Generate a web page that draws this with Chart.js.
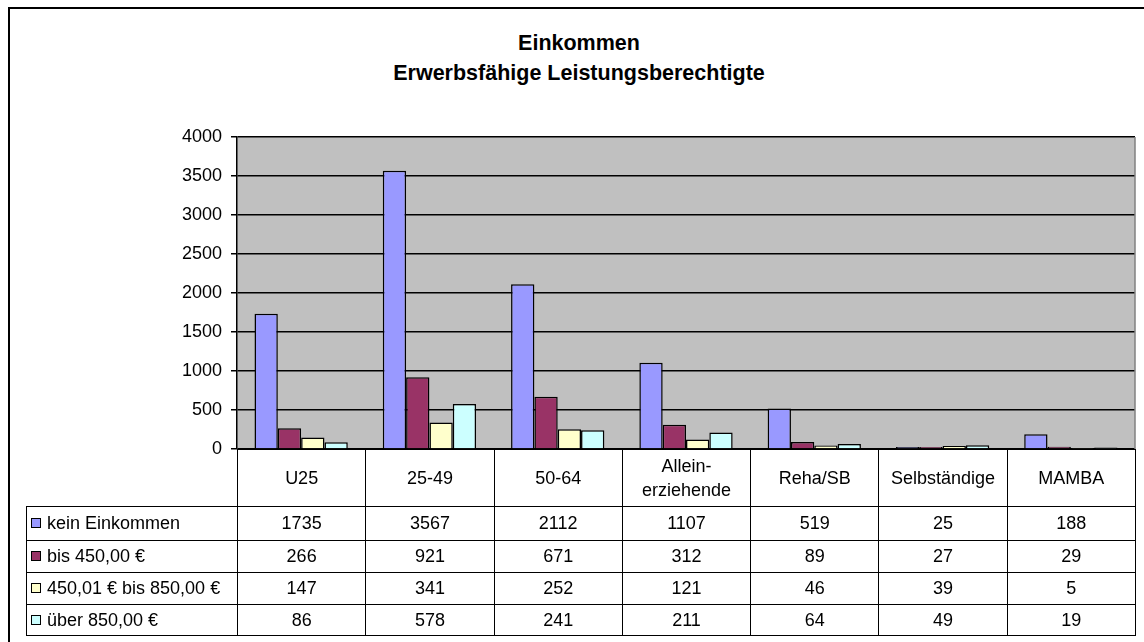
<!DOCTYPE html>
<html lang="de">
<head>
<meta charset="utf-8">
<title>Einkommen - Erwerbsfähige Leistungsberechtigte</title>
<script src="https://cdn.jsdelivr.net/npm/chart.js@4/dist/chart.umd.min.js"></script>
<style>
    body { margin: 0; background: #fff; font-family: 'Liberation Sans', Arial, sans-serif; }
    #page { position: relative; width: 1144px; height: 642px; overflow: hidden; }
    #frame { position: absolute; left: 8px; top: 7px; width: 1160px; height: 660px; border: 2px solid #000; }
    #title { position: absolute; left: 8px; width: 1142px; top: 28px; text-align: center;
             font-weight: bold; font-size: 21.5px; line-height: 30px; color: #000; }
    #chart { position: absolute; left: 0; top: 0; }
    #datatable { position: absolute; border-collapse: collapse; table-layout: fixed;
                 font-size: 18px; color: #000; }
    #datatable td { border: 1px solid #000; text-align: center; padding: 0; white-space: nowrap; }
    #datatable td.name { text-align: left; padding-left: 4px; }
    #datatable td.corner { border-top: none; border-left: none; }
    #datatable tr.head td { line-height: 24px; }
    .key { display: inline-block; width: 8px; height: 8px; border: 1px solid #000;
           margin-right: 6px; vertical-align: 1px; }
</style>
</head>
<body>
<div id="page">
    <div id="frame"></div>
    <div id="title">Einkommen<br>Erwerbsfähige Leistungsberechtigte</div>
    <canvas id="chart" width="1144" height="642"></canvas>
    <table id="datatable"></table>
</div>
<script>
// Daten
const categories = ['U25', '25-49', '50-64', ['Allein-', 'erziehende'], 'Reha/SB', 'Selbständige', 'MAMBA'];
const seriesNames = ['kein Einkommen', 'bis 450,00 €', '450,01 € bis 850,00 €', 'über 850,00 €'];
const keinEinkommen = [1735, 3567, 2112, 1107, 519, 25, 188];
const bis450 = [266, 921, 671, 312, 89, 27, 29];
const bis850 = [147, 341, 252, 121, 46, 39, 5];
const ueber850 = [86, 578, 241, 211, 64, 49, 19];
const yMin = 0;
const yMax = 4000;
const yStep = 500;

// Farben (Excel-Standardpalette)
const seriesColors = ['#9999FF', '#993366', '#FFFFCC', '#CCFFFF'];
const seriesValues = [keinEinkommen, bis450, bis850, ueber850];

Chart.defaults.font.family = "'Liberation Sans', Arial, sans-serif";
Chart.defaults.color = '#000';

// Grauer Hintergrund der Zeichenfläche
const plotBackground = {
    id: 'plotBackground',
    beforeDraw(chart) {
        const { ctx, chartArea: a } = chart;
        ctx.save();
        ctx.fillStyle = '#C0C0C0';
        ctx.fillRect(a.left, a.top, a.right - a.left, a.bottom - a.top);
        ctx.restore();
    },
    afterDraw(chart) {
        const { ctx, chartArea: a } = chart;
        ctx.save();
        ctx.strokeStyle = '#808080';
        ctx.lineWidth = 1.5;
        ctx.beginPath();
        ctx.moveTo(a.right, a.top);
        ctx.lineTo(a.right, a.bottom);
        ctx.stroke();
        ctx.restore();
    }
};

const chart = new Chart(document.getElementById('chart'), {
    type: 'bar',
    data: {
        labels: categories,
        datasets: seriesNames.map((name, i) => ({
            label: name,
            data: seriesValues[i],
            backgroundColor: seriesColors[i],
            borderColor: '#000',
            borderWidth: 1.5,
            categoryPercentage: 4 / 5.5,
            barPercentage: 1.0
        }))
    },
    options: {
        responsive: false,
        animation: false,
        layout: {
            padding: { left: 0, top: 137, right: 9, bottom: 193 }
        },
        plugins: {
            legend: { display: false },
            title: { display: false },
            tooltip: { enabled: false }
        },
        scales: {
            x: { display: false },
            y: {
                min: yMin,
                max: yMax,
                ticks: {
                    stepSize: yStep,
                    padding: 9,
                    font: { size: 18 },
                    color: '#000',
                    callback: value => String(value)
                },
                grid: {
                    color: '#000',
                    lineWidth: 1.5,
                    tickLength: 6
                },
                border: { display: true, color: '#000', width: 1.5 },
                afterFit(scale) {
                    scale.width = 237;
                }
            }
        }
    },
    plugins: [plotBackground]
});

// Datentabelle unter dem Diagramm, an den Kategorien ausgerichtet
function buildTable() {
    const a = chart.chartArea;
    const table = document.getElementById('datatable');
    const nameWidth = a.left - 26;
    const colWidth = (a.right - a.left) / categories.length;
    table.style.left = '26px';
    table.style.top = a.bottom + 'px';
    table.style.width = (nameWidth + colWidth * categories.length) + 'px';

    let html = '<colgroup><col style="width:' + nameWidth + 'px">';
    categories.forEach(() => { html += '<col style="width:' + colWidth + 'px">'; });
    html += '</colgroup>';

    html += '<tr class="head" style="height:57px"><td class="corner"></td>';
    categories.forEach(c => {
        html += '<td>' + (Array.isArray(c) ? c.join('<br>') : c) + '</td>';
    });
    html += '</tr>';

    const rowHeights = [34, 32, 32, 31];
    seriesNames.forEach((name, i) => {
        html += '<tr style="height:' + rowHeights[i] + 'px"><td class="name">'
            + '<span class="key" style="background:' + seriesColors[i] + '"></span>' + name + '</td>';
        seriesValues[i].forEach(v => { html += '<td>' + v + '</td>'; });
        html += '</tr>';
    });
    table.innerHTML = html;
}

buildTable();
</script>
</body>
</html>
